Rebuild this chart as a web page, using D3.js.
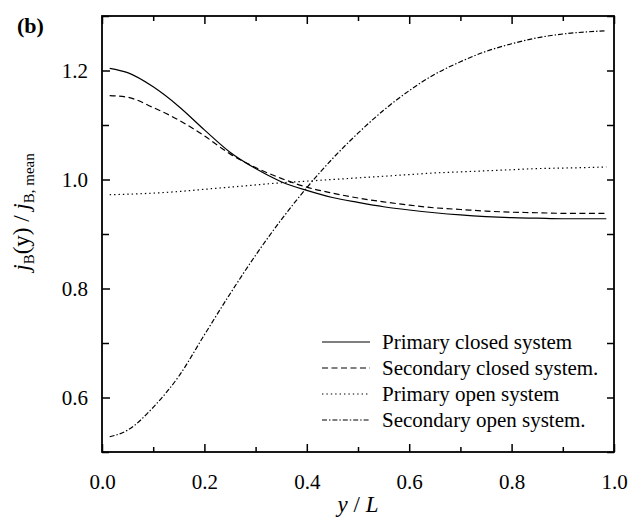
<!doctype html>
<html lang="en">
  <head>
    <meta charset="utf-8" />
    <title>j_B profile</title>
    <script src="https://d3js.org/d3.v7.min.js"></script>
    <style>
     body { margin: 0; background: #fff; }
     svg text { font-family: "Liberation Serif", "Times New Roman", serif; fill: #000; }
     .tick line { stroke: #000; stroke-width: 1.5; }
     .domain { display: none; }
    </style>
  </head>
  <body>
    <div id="chart"></div>
    <script>
    // values, y / L positions
    var xs = [0.015, 0.05, 0.1, 0.15, 0.2, 0.25, 0.3, 0.35, 0.4, 0.45, 0.5,
              0.55, 0.6, 0.65, 0.7, 0.75, 0.8, 0.85, 0.9, 0.95, 0.985];

    var primaryClosed = [1.204, 1.196, 1.170, 1.134, 1.091, 1.050, 1.020, 0.996, 0.980, 0.967, 0.958,
                         0.950, 0.944, 0.939, 0.935, 0.932, 0.930, 0.929, 0.928, 0.928, 0.928];
    var secondaryClosed = [1.154, 1.151, 1.132, 1.109, 1.080, 1.047, 1.022, 1.002, 0.986, 0.975, 0.966,
                           0.959, 0.953, 0.948, 0.945, 0.942, 0.940, 0.939, 0.938, 0.938, 0.938];
    var primaryOpen = [0.972, 0.973, 0.975, 0.978, 0.982, 0.986, 0.990, 0.994, 0.997, 1.000, 1.003,
                       1.006, 1.009, 1.012, 1.014, 1.016, 1.018, 1.020, 1.021, 1.022, 1.023];
    var secondaryOpen = [0.528, 0.540, 0.582, 0.639, 0.715, 0.790, 0.861, 0.926, 0.985, 1.038, 1.085,
                         1.127, 1.163, 1.193, 1.216, 1.235, 1.249, 1.260, 1.267, 1.271, 1.273];

    var seriesNames = ["Primary closed system", "Secondary closed system.",
                       "Primary open system", "Secondary open system."];
    var seriesValues = [primaryClosed, secondaryClosed, primaryOpen, secondaryOpen];
    var dashes = [null, "6,3.5", "1.4,3", "5,2,1.4,2"];

    var xMajor = [0, 0.2, 0.4, 0.6, 0.8, 1.0];
    var xMinor = [0.1, 0.3, 0.5, 0.7, 0.9];
    var yMajor = [0.6, 0.8, 1.0, 1.2];
    var yMinor = [0.5, 0.7, 0.9, 1.1, 1.3];

    var W = 629, H = 518;
    var m = {left: 102, top: 16, right: 15, bottom: 66};

    var svg = d3.select("#chart").append("svg")
        .attr("width", W).attr("height", H);

    var x = d3.scaleLinear().domain([0, 1]).range([m.left, W - m.right]);
    var y = d3.scaleLinear().domain([0.5, 1.3]).range([H - m.bottom, m.top]);

    // ticks (all inward)
    svg.append("g").attr("transform", "translate(0," + y(0.5) + ")")
      .call(d3.axisBottom(x).tickValues(xMajor).tickSize(-8).tickPadding(22).tickFormat(d3.format(".1f")))
      .selectAll("text").attr("font-size", 21);
    svg.append("g").attr("transform", "translate(0," + y(0.5) + ")")
      .call(d3.axisBottom(x).tickValues(xMinor).tickSize(-5).tickFormat(""));
    svg.append("g").attr("transform", "translate(0," + y(1.3) + ")")
      .call(d3.axisTop(x).tickValues(xMajor).tickSize(-8).tickFormat(""));
    svg.append("g").attr("transform", "translate(0," + y(1.3) + ")")
      .call(d3.axisTop(x).tickValues(xMinor).tickSize(-5).tickFormat(""));

    svg.append("g").attr("transform", "translate(" + x(0) + ",0)")
      .call(d3.axisLeft(y).tickValues(yMajor).tickSize(-8).tickPadding(14).tickFormat(d3.format(".1f")))
      .selectAll("text").attr("font-size", 21);
    svg.append("g").attr("transform", "translate(" + x(0) + ",0)")
      .call(d3.axisLeft(y).tickValues(yMinor).tickSize(-7).tickFormat(""));
    svg.append("g").attr("transform", "translate(" + x(1) + ",0)")
      .call(d3.axisRight(y).tickValues(yMajor.concat(yMinor)).tickSize(-7).tickFormat(""));

    // frame
    svg.append("rect")
      .attr("x", x(0)).attr("y", y(1.3))
      .attr("width", x(1) - x(0)).attr("height", y(0.5) - y(1.3))
      .attr("fill", "none").attr("stroke", "#000").attr("stroke-width", 1.8);

    var line = d3.line()
      .x(function(d) { return x(d[0]); })
      .y(function(d) { return y(d[1]); })
      .curve(d3.curveMonotoneX);

    seriesValues.forEach(function(vals, i) {
      svg.append("path")
        .datum(xs.map(function(v, k) { return [v, vals[k]]; }))
        .attr("d", line)
        .attr("fill", "none")
        .attr("stroke", "#000")
        .attr("stroke-width", 1.2)
        .attr("stroke-dasharray", dashes[i]);
    });

    // legend
    var lg = svg.append("g");
    seriesNames.forEach(function(name, i) {
      var by = 349 + i * 26;
      lg.append("line")
        .attr("x1", 322).attr("x2", 370)
        .attr("y1", by - 7).attr("y2", by - 7)
        .attr("stroke", "#000").attr("stroke-width", 1.2)
        .attr("stroke-dasharray", dashes[i]);
      lg.append("text").attr("x", 382).attr("y", by)
        .attr("font-size", 21).text(name);
    });

    // axis titles
    var xt = svg.append("text")
      .attr("x", (x(0) + x(1)) / 2).attr("y", 512)
      .attr("text-anchor", "middle").attr("font-size", 23);
    xt.append("tspan").attr("font-style", "italic").text("y");
    xt.append("tspan").text(" / ");
    xt.append("tspan").attr("font-style", "italic").text("L");

    var yt = svg.append("text")
      .attr("transform", "translate(29,212) rotate(-90)")
      .attr("text-anchor", "middle").attr("font-size", 23);
    yt.append("tspan").attr("font-style", "italic").text("j");
    yt.append("tspan").attr("font-size", 15).attr("dy", 5).text("B");
    yt.append("tspan").attr("dy", -5).text("(y) / ");
    yt.append("tspan").attr("font-style", "italic").text("j");
    yt.append("tspan").attr("font-size", 15).attr("dy", 5).text("B, mean");

    svg.append("text")
      .attr("x", 17).attr("y", 33)
      .attr("font-size", 22).attr("font-weight", "bold")
      .text("(b)");
    </script>
  </body>
</html>
